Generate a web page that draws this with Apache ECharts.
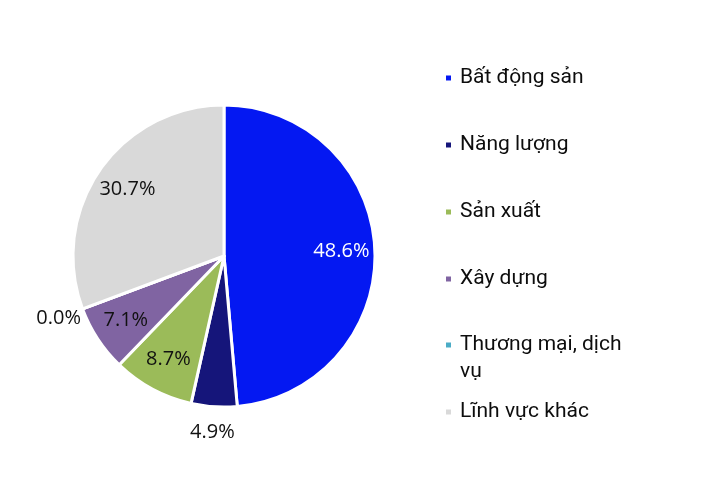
<!DOCTYPE html>
<html>
<head>
<meta charset="utf-8">
<script src="https://cdn.jsdelivr.net/npm/echarts@6/dist/echarts.min.js"></script>
<style>
  html, body { margin: 0; padding: 0; background: #fff; }
  #chart { width: 711px; height: 498px; }
</style>
</head>
<body>
<div id="chart"></div>
<script>
// nhóm ngành và tỷ trọng (%)
const categories = ["Bất động sản", "Năng lượng", "Sản xuất", "Xây dựng", "Thương mại, dịch vụ", "Lĩnh vực khác"];
const legendLabels = ["Bất động sản", "Năng lượng", "Sản xuất", "Xây dựng", "\nThương mại, dịch\nvụ", "Lĩnh vực khác"];
const values = [48.6, 4.9, 8.7, 7.1, 0.0, 30.7];
const colors = ["#0418f2", "#15157a", "#9bbb59", "#8064a2", "#4bacc6", "#d9d9d9"];
// nhãn nằm ngoài hình tròn
const outsideLabel = [false, true, false, false, true, false];

const chart = echarts.init(document.getElementById("chart"));

const center = [224, 256];
const labelFont = { fontFamily: "Open Sans", fontSize: 20 };

function ring(radius, showOutside) {
  return {
    type: "pie",
    radius: radius,
    center: center,
    startAngle: 90,
    clockwise: true,
    silent: true,
    legendHoverLink: false,
    animation: false,
    itemStyle: { color: "transparent", borderWidth: 0 },
    labelLine: { show: false },
    data: categories.map((name, i) => ({
      name: name,
      value: values[i],
      label: {
        show: outsideLabel[i] === showOutside,
        position: "inside",
        formatter: values[i].toFixed(1) + "%",
        ...labelFont,
        color: i === 0 ? "#ffffff" : "#111111",
      },
    })),
  };
}

function legendText(name) {
  return legendLabels[categories.indexOf(name)];
}

const legendBase = {
  orient: "vertical",
  left: 444,
  padding: 0,
  icon: "rect",
  itemWidth: 7,
  itemHeight: 7,
  formatter: legendText,
  selectedMode: false,
  textStyle: {
    fontFamily: "Roboto",
    fontSize: 21,
    lineHeight: 27,
    color: "#0d0d0d",
    padding: [0, 0, 0, 3],
  },
};

const option = {
  animation: false,
  backgroundColor: "#ffffff",
  legend: [
    { ...legendBase, top: 64.5, itemGap: 40, data: categories.slice(0, 4) },
    { ...legendBase, top: 304.5, itemGap: 13, data: categories.slice(4) },
  ],
  series: [
    {
      type: "pie",
      radius: [0, 151],
      center: center,
      startAngle: 90,
      clockwise: true,
      avoidLabelOverlap: false,
      label: { show: false },
      labelLine: { show: false },
      itemStyle: { borderColor: "#ffffff", borderWidth: 3 },
      emphasis: { disabled: true },
      data: categories.map((name, i) => ({
        name: name,
        value: values[i],
        itemStyle: { color: colors[i] },
      })),
    },
    ring([78, 151], false),
    ring([151, 196], true),
  ],
};

chart.setOption(option);
</script>
</body>
</html>
